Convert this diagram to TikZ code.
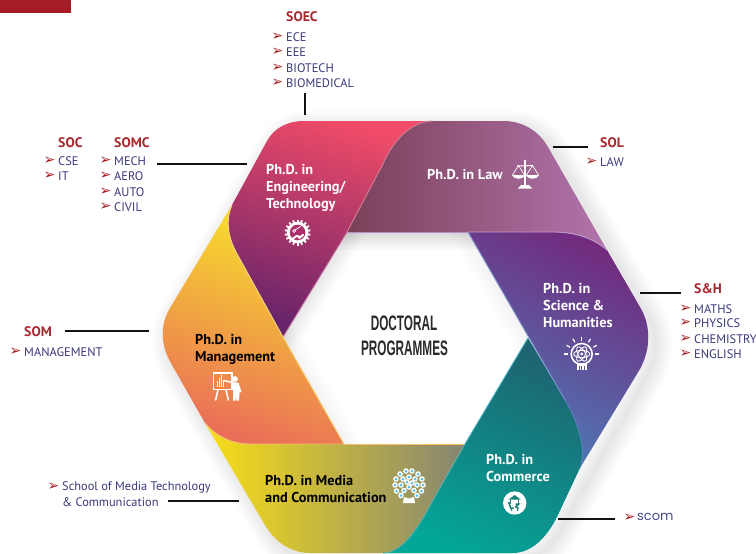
\documentclass[tikz,border=0pt]{standalone}
\usepackage{fontspec}
\setmainfont{PT Sans}
\newfontfamily\bulfont{DejaVu Sans}
\newfontfamily\headfont{Liberation Sans}
\newfontfamily\scomfont{Poppins}
\definecolor{barred}{HTML}{A51C24}
\definecolor{schoolred}{HTML}{A6282E}
\definecolor{listblue}{HTML}{3B3A7C}
\definecolor{scomblue}{HTML}{4A4A8C}
\definecolor{linkblack}{HTML}{111111}
\definecolor{headgrey}{HTML}{2A2A2C}
\newcommand\hexcol[1]{\definecolor{#1}{HTML}{#1}}
\hexcol{F8E22A}\hexcol{F2BB45}\hexcol{EA6E58}\hexcol{F9DE17}\hexcol{858572}\hexcol{1E6371}\hexcol{04A698}
\hexcol{722A7E}\hexcol{4C7DB8}\hexcol{7B4058}\hexcol{B274AC}\hexcol{F04B68}\hexcol{66236A}
\hexcol{C66FA0}\hexcol{D08095}\hexcol{B58FC6}\hexcol{BA9CCC}\hexcol{7E92CE}\hexcol{45B2C4}
\hexcol{5E7CBC}\hexcol{F6BC66}\hexcol{60B2A8}\hexcol{F5D477}\hexcol{F4C07A}\hexcol{F4DC80}
\hexcol{AC2F6A}\hexcol{5F5594}\hexcol{1A7F7C}\hexcol{5CC1EA}
\tikzset{
  x=1pt,y=-1pt,
  bandlabel/.style={anchor=west,inner sep=0,font=\fontsize{14.3}{17}\selectfont\bfseries,text=white,align=left},
  darklabel/.style={bandlabel,text=black},
  school/.style={anchor=west,inner sep=0,font=\fontsize{13.8}{15}\selectfont\bfseries,text=schoolred},
  listitem/.style={anchor=west,inner sep=0,font=\fontsize{12.4}{14}\selectfont,text=listblue},
  bullet/.style={anchor=center,inner sep=0,font=\bulfont\fontsize{14}{15}\selectfont,text=barred},
  link/.style={draw=linkblack,line width=2pt},
  heading/.style={inner sep=0,font=\headfont\fontsize{21}{24}\selectfont\bfseries,text=headgrey,xscale=.56,transform shape},
  edge/.style={line width=.9pt},
  icon/.style={white,line width=1pt},
}
\newcommand\entry[4]{\node[bullet] (#1b) at (#2-8.5,#3) {➢};\node[listitem] (#1) at (#2,#3) {#4};}
\def\pEng{(303,121) .. controls (288,121) and (274,128) .. (267,141) -- (232,205) .. controls (226,218) and (227,235) .. (236,252) -- (283,337) -- (347,232) -- (383,164) .. controls (393,140) and (412,121) .. (433,121) -- cycle}
\def\pLaw{(347,232) -- (383,164) .. controls (393,140) and (412,121) .. (433,121) -- (503,121) .. controls (522,121) and (538,130) .. (548,147) -- (607,250) .. controls (593,238) and (575,232) .. (553,232) -- cycle}
\def\pSci{(468,232) -- (553,232) .. controls (575,232) and (593,238) .. (607,250) -- (640,307) .. controls (650,323) and (652,347) .. (640,369) -- (580,468) .. controls (585,455) and (583,430) .. (565,400) -- cycle}
\def\pCom{(528,338) -- (565,400) .. controls (583,430) and (585,455) .. (580,468) -- (557,517) .. controls (548,535) and (533,553) .. (513,553) -- (383,553) .. controls (403,553) and (420,525) .. (433,500) -- (465,444) -- cycle}
\def\pMed{(205,423) .. controls (215,435) and (230,444) .. (250,444) -- (465,444) -- (433,500) .. controls (420,525) and (403,553) .. (383,553) -- (310,553) .. controls (285,553) and (270,535) .. (262,520) -- cycle}
\def\pMan{(232,205) .. controls (226,218) and (227,235) .. (236,252) -- (283,337) -- (344,444) -- (250,444) .. controls (230,444) and (215,435) .. (205,423) -- (172,365) .. controls (160,345) and (160,325) .. (170,308) -- cycle}
\def\pOuter{(303,121) -- (503,121) .. controls (522,121) and (538,130) .. (548,147) -- (640,307) .. controls (650,323) and (652,347) .. (640,369) -- (557,517) .. controls (548,535) and (533,553) .. (513,553) -- (310,553) .. controls (285,553) and (270,535) .. (262,520) -- (172,365) .. controls (160,345) and (160,325) .. (170,308) -- (267,141) .. controls (274,128) and (288,121) .. (303,121) -- cycle}
\begin{document}
\begin{tikzpicture}
\useasboundingbox (0,0) rectangle (756,554);
\fill[white] (0,0) rectangle (756,554);
\begin{scope}
\clip (0,0) rectangle (756,554);
% soft shadows
\foreach \w in {3,6,...,36}{
  \draw[black,opacity=.008,line width=\w pt,line join=round,xshift=7pt,yshift=-7pt] \pOuter;
}
\begin{scope}
\clip (347,232) -- (468,232) -- (529,338) -- (467,444) -- (344,444) -- (283,337) -- cycle;
\foreach \w in {3,6,...,36}{
  \draw[black,opacity=.012,line width=\w pt] (250,232) -- (560,232);
  \draw[black,opacity=.008,line width=\w pt] (405,137) -- (225,432);
  \draw[black,opacity=.004,line width=\w pt] (225,237) -- (403,549);
  \draw[black,opacity=.004,line width=\w pt] (410,132) -- (587,438);
}
\end{scope}
% ribbon bands
\shade[top color=F8E22A,middle color=F2BB45,bottom color=EA6E58,shading angle=-18] \pMan;
\shade[left color=F9DE17,right color=858572] \pMed;
\shade[top color=1E6371,bottom color=04A698,shading angle=-25] \pCom;
\shade[top color=722A7E,bottom color=4C7DB8,shading angle=-28] \pSci;
\shade[left color=7B4058,right color=B274AC] \pLaw;
\shade[top color=F04B68,bottom color=66236A,shading angle=-18] \pEng;
% ribbon edge highlights
\draw[edge,draw=C66FA0] (347,232) -- (283,337);
\draw[edge,draw=D08095] (347,232) -- (383,164) .. controls (393,140) and (412,121) .. (433,121);
\draw[edge,draw=B58FC6] (347,232) -- (468,232);
\draw[edge,draw=BA9CCC] (468,232) -- (553,232) .. controls (575,232) and (593,238) .. (607,250);
\draw[edge,draw=7E92CE] (468,232) -- (565,400);
\draw[edge,draw=45B2C4] (528,338) -- (465,444);
\draw[edge,draw=5E7CBC] (565,400) .. controls (583,430) and (585,455) .. (580,468);
\draw[edge,draw=F6BC66] (344,444) -- (465,444);
\draw[edge,draw=60B2A8] (465,444) -- (433,500) .. controls (420,525) and (403,553) .. (383,553);
\draw[edge,draw=F5D477] (283,337) -- (344,444);
\draw[edge,draw=F4C07A] (205,423) .. controls (215,435) and (230,444) .. (250,444) -- (344,444);
\draw[edge,draw=F4DC80] (232,205) .. controls (226,218) and (227,235) .. (236,252) -- (283,337);
\end{scope}
% top-left bar
\fill[barred] (0,0) rectangle (71,13);
% centre heading
\node[heading] (headA) at (404,323) {DOCTORAL};
\node[heading] (headB) at (404.5,348) {PROGRAMMES};
% band labels
\node[bandlabel] (eng) at (266,188) {Ph.D. in\\Engineering/\\Technology};
\node[bandlabel] (law) at (427,174) {Ph.D. in Law};
\node[bandlabel] (sci) at (543,306) {Ph.D. in\\Science \&\\Humanities};
\node[bandlabel] (com) at (486,468.5) {Ph.D. in\\Commerce};
\node[darklabel] (med) at (265,489.5) {Ph.D. in Media\\and Communication};
\node[darklabel] (man) at (195,349.5) {Ph.D. in\\Management};
% school lists
\node[school] (soec) at (286,17) {SOEC};
\entry{ece}{286}{37}{ECE}\entry{eee}{286}{52}{EEE}\entry{bio}{286}{68}{BIOTECH}\entry{biom}{286}{83}{BIOMEDICAL}
\node[school] (soc) at (58,143) {SOC};
\entry{cse}{58}{161}{CSE}\entry{it}{58}{176}{IT}
\node[school] (somc) at (114,143) {SOMC};
\entry{mech}{114}{161}{MECH}\entry{aero}{114}{176}{AERO}\entry{auto}{114}{192}{AUTO}\entry{civil}{114}{207}{CIVIL}
\node[school] (sol) at (600,143) {SOL};
\entry{lawi}{600}{162}{LAW}
\node[school] (sh) at (694,289) {S\&H};
\entry{maths}{694}{309}{MATHS}\entry{phys}{694}{323}{PHYSICS}\entry{chem}{694}{339}{CHEMISTRY}\entry{engl}{694}{354}{ENGLISH}
\node[school] (som) at (24,332) {SOM};
\entry{mgmt}{24}{352}{MANAGEMENT}
\entry{media}{62}{487}{School of Media Technology}
\node[listitem] (mediab) at (62,502) {\& Communication};
\node[bullet] (scomb) at (629.5,518) {➢};
\node[listitem,text=scomblue,font=\scomfont\fontsize{13}{14}\selectfont] (scom) at (637,517) {scom};
% connectors
\coordinate (a1) at (305,93); \coordinate (a2) at (305,115);
\coordinate (b1) at (157,164); \coordinate (b2) at (247,164);
\coordinate (c1) at (553,147); \coordinate (c2) at (588,147);
\coordinate (d1) at (640,293); \coordinate (d2) at (681,293);
\coordinate (e1) at (65,331); \coordinate (e2) at (149,331);
\coordinate (f1) at (168,501); \coordinate (f2) at (239,501);
\coordinate (g1) at (558,519); \coordinate (g2) at (615,519);
\draw[link] (a1) -- (a2); \draw[link] (b1) -- (b2); \draw[link] (c1) -- (c2);
\draw[link] (d1) -- (d2); \draw[link] (e1) -- (e2); \draw[link] (f1) -- (f2); \draw[link] (g1) -- (g2);
% gear icon
\begin{scope}[shift={(297.6,232.5)}]
  \foreach \a in {0,20,...,340}{\fill[white,rotate=\a] (-.9,-9) rectangle (.9,-13);}
  \fill[white] (0,0) circle (10.8);
  \fill[AC2F6A] (0,0) circle (7.8);
  \draw[white,line width=2pt,line cap=round] (-6,7) -- (-1,3.5) -- (3,4.5);
  \draw[white,line width=2pt] (1,6) -- (6,2);
  \draw[white,line width=.8pt] (-3.5,-1.5) circle (1.5) (-2.5,-2.5) -- (3,-6);
\end{scope}
% scales icon
\begin{scope}[icon]
  \fill (525,161) circle (1.4);
  \draw[line width=1.6pt] (525,162) -- (525,186);
  \draw (517,166) -- (533,165.5);
  \fill (518,188.5) -- (521,185) -- (529,185) -- (532,188.5) -- cycle;
  \draw[line width=.7pt] (512.5,175) -- (518.5,165.5) -- (524.5,175);
  \draw[line width=.7pt] (526.5,175) -- (532.5,165.5) -- (538.5,175);
  \fill (512,175) -- (525,175) .. controls (524,180) and (513,180) .. (512,175);
  \fill (526,175) -- (539,175) .. controls (538,180) and (527,180) .. (526,175);
\end{scope}
% atom-bulb icon
\begin{scope}[shift={(581.7,354)},icon]
  \draw[line width=1.6pt] (0,0) circle (10.5);
  \foreach \a in {0,60,120}{\draw[line width=.9pt,rotate=\a] (0,0) ellipse (8 and 3.6);}
  \fill (0,0) circle (1.6);
  \foreach \a in {-90,-60,...,90}{\draw[line width=1.2pt,rotate=\a] (0,-13.5) -- (0,-17.5);}
  \fill (-5,9) rectangle (5,16);
  \foreach \x in {-2.5,0,2.5}{\draw[draw=5F5594,line width=.5pt] (\x,12) -- (\x,16);}
\end{scope}
% commerce icon
\fill[white] (514.7,503) circle (11.7);
\begin{scope}[shift={(514.7,503)},draw=1A7F7C,fill=1A7F7C]
  \fill (0,-8) -- (6,-3.5) -- (-6,-3.5) -- cycle;
  \draw[line width=1pt] (-4,-3) -- (-4,1) (4,-3) -- (4,1);
  \draw[line width=1.5pt] (-6,-1) -- (-4,5) -- (-1,5);
  \draw[line width=1.5pt] (1,1) -- (4,1) -- (1,4) -- (4,5.5);
  \fill (-3,7) circle (1) (3,7) circle (1);
\end{scope}
% tree icon
\begin{scope}[shift={(409,485)}]
  \fill[white] (-5,12) -- (0,13.5) -- (5,12) -- (6,18) -- (-6,18) -- cycle;
  \foreach \x/\y in {-3/-14,3/-14,-9/-11,9/-11,-13/-6,13/-6,-14/0,14/0,-12.5/6,12.5/6,-8/10.5,8/10.5,-6/-6,0/-8,6/-6,-8/0,8/0,-5/5.5,5/5.5,0/2,-2/-3,3/-2}{
    \fill[white] (\x,\y) circle (2.8);
  }
  \foreach \x/\y in {-3/-14,3/-14,-9/-11,9/-11,-13/-6,13/-6,-14/0,14/0,-12.5/6,12.5/6,-8/10.5,8/10.5,-6/-6,0/-8,6/-6,-8/0,8/0,-5/5.5,5/5.5,0/2,-2/-3,3/-2}{
    \fill[5CC1EA] (\x,\y) circle (1.5);
  }
\end{scope}
% presenter icon
\begin{scope}[icon]
  \draw[line width=1.2pt] (213.5,373) rectangle (232,389.5);
  \fill (212.5,371.5) rectangle (232.5,373.5);
  \draw[line width=1.6pt] (218,390) -- (215.5,400.5) (226,390) -- (228.5,400.5);
  \foreach \x/\h in {216.5/6,218.5/9,220.5/12,222.5/7}{\fill (\x,387) rectangle (\x+1,387-\h);}
  \draw[line width=1.5pt] (224,380.5) -- (236,383.5);
  \fill (235,379) circle (2.9);
  \fill (233,382.5) -- (238.5,382.5) -- (241.5,392) -- (239.5,392.5) -- (239,400.5) -- (236.3,400.5) -- (236,392) -- (235.6,400.5) -- (233,400.5) -- cycle;
\end{scope}
\end{tikzpicture}
\end{document}
